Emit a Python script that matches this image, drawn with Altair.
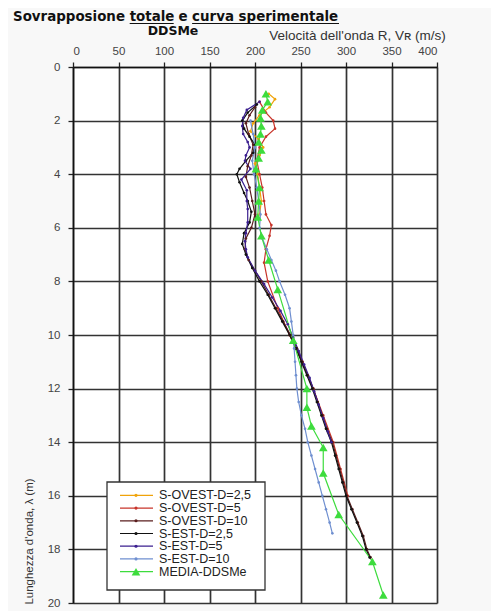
import altair as alt
import pandas as pd

series_names = ["S-OVEST-D=2,5", "S-OVEST-D=5", "S-OVEST-D=10",
                "S-EST-D=2,5", "S-EST-D=5", "S-EST-D=10", "MEDIA-DDSMe"]
series_colors = ["#f0a30a", "#c8342a", "#5a1e1e", "#111111", "#3b1f8f", "#6f8fd0", "#3ddc3d"]

x_ticks = [0, 50, 100, 150, 200, 250, 300, 350, 400]
y_ticks = list(range(0, 21))

title_parts = ["Sovrapposione", "totale", "e", "curva sperimentale"]
subtitle = "DDSMe"

# depth (m) / velocity (m/s)
ovest25_d = [1.0, 1.2, 1.5, 1.8, 2.1, 2.4, 2.7, 3.0, 3.3, 3.6, 4.0, 4.5, 5.0, 5.5]
ovest25_v = [215, 222, 216, 205, 198, 195, 204, 209, 205, 200, 203, 205, 207, 205]

ovest5_d = [1.3, 1.7, 2.0, 2.3, 2.6, 3.0, 3.5, 4.0, 4.5, 5.0, 5.5, 5.9, 6.3, 6.8, 7.3, 8.0, 9.0, 10.0,
            11.0, 12.0, 13.0, 14.0, 15.0, 16.0]
ovest5_v = [205, 212, 220, 222, 212, 205, 202, 205, 208, 210, 212, 218, 216, 212, 210, 214, 225, 238,
            252, 264, 275, 286, 294, 302]

ovest10_d = [1.5, 1.8, 2.1, 2.5, 2.9, 3.3, 3.7, 4.1, 4.5, 5.0, 5.5, 6.0, 6.4, 6.8, 7.2, 7.6, 8.0, 8.5,
             9.0, 9.5, 10.0, 10.5, 11.0, 11.5, 12.0, 12.5, 13.0, 13.5, 14.0, 14.5, 15.0, 15.5, 16.0,
             16.5, 17.0, 17.5, 18.0, 18.3]
ovest10_v = [200, 194, 190, 193, 198, 196, 192, 190, 194, 197, 200, 196, 190, 189, 193, 200, 207, 215,
             223, 231, 239, 246, 252, 258, 264, 269, 274, 279, 285, 289, 293, 297, 301,
             307, 313, 319, 323, 327]

est25_d = [1.4, 1.7, 2.0, 2.3, 2.6, 2.9, 3.2, 3.5, 3.8, 4.0, 4.3, 4.7, 5.0, 5.4, 5.8, 6.2, 6.6, 7.0,
           7.5, 8.0, 8.5, 9.0, 9.5, 10.0, 10.5, 11.0, 11.5, 12.0, 12.5, 13.0, 13.5, 14.0, 14.5, 15.0,
           15.5, 16.0, 16.5, 17.0, 17.5, 18.0, 18.3]
est25_v = [202, 192, 186, 188, 194, 200, 198, 190, 183, 180, 183, 188, 192, 196, 194, 188, 186, 190,
           197, 205, 214, 222, 230, 238, 245, 251, 257, 263, 268, 273, 278, 284, 288, 292,
           296, 300, 306, 312, 318, 322, 326]

est5_d = [1.3, 1.6, 1.9, 2.2, 2.5, 2.8, 3.0, 3.3, 3.5, 3.8, 4.2, 4.6, 5.0, 5.3, 5.8, 6.2, 6.5, 6.8,
          7.1, 7.6, 8.1, 8.6, 9.1, 9.6, 10.1, 10.6, 11.1, 11.6, 12.1, 12.6, 13.1, 13.6, 14.0]
est5_v = [205, 191, 187, 186, 187, 192, 194, 190, 189, 195, 185, 191, 191, 192, 192, 190, 189, 190,
          192, 200, 210, 219, 228, 236, 242, 248, 254, 260, 265, 270, 275, 280, 284]

est10_d = [2.0, 2.5, 3.0, 3.5, 4.0, 4.5, 5.0, 5.5, 6.0, 6.4, 6.8, 7.2, 7.6, 8.0, 8.5, 9.0, 9.5, 10.0,
           10.5, 11.0, 11.5, 12.0, 12.5, 13.0, 13.5, 14.0, 14.5, 15.0, 15.5, 16.0, 16.5, 17.0, 17.4]
est10_v = [195, 198, 200, 197, 199, 202, 204, 206, 205, 208, 213, 218, 223, 227, 233, 238, 240, 242,
           243, 244, 245, 246, 248, 251, 255, 258, 262, 266, 270, 274, 278, 282, 285]

media_d = [1.0, 1.3, 1.6, 1.9, 2.2, 2.5, 2.8, 3.1, 3.4, 3.8, 4.5, 5.0, 5.6, 6.3, 7.2, 8.3, 10.2,
           12.0, 12.7, 13.4, 14.2, 15.15, 16.7, 18.45, 19.7]
media_v = [212, 214, 208, 206, 207, 206, 204, 207, 204, 201, 205, 204, 203, 207, 215, 225, 242,
           257, 257, 262, 275, 275, 292, 329, 341]

all_d = [ovest25_d, ovest5_d, ovest10_d, est25_d, est5_d, est10_d, media_d]
all_v = [ovest25_v, ovest5_v, ovest10_v, est25_v, est5_v, est10_v, media_v]

rows = []
for name, ds, vs in zip(series_names, all_d, all_v):
    for i, (d, v) in enumerate(zip(ds, vs)):
        rows.append({"series": name, "depth": d, "vel": v, "idx": i})
df = pd.DataFrame(rows)

color = alt.Color("series:N", scale=alt.Scale(domain=series_names, range=series_colors), legend=None)

x_enc = alt.X("vel:Q", scale=alt.Scale(domain=[0, 400], nice=False, zero=False),
              axis=alt.Axis(orient="top", values=x_ticks, title="Velocità dell'onda R, Vʀ (m/s)",
                            titleX=284, titleY=-28, titleAlign="center", titleBaseline="alphabetic",
                            titleFont="Liberation Sans", titleFontSize=13.5, titleFontWeight="normal",
                            titleColor="#333333",
                            labelFont="Liberation Sans", labelFontSize=11.5, labelColor="#444444",
                            labelPadding=6, tickSize=5, tickColor="#222222", tickWidth=1.3,
                            grid=True, gridColor="#333333", gridWidth=1.7,
                            domainColor="#111111", domainWidth=1.5))
y_enc = alt.Y("depth:Q", scale=alt.Scale(domain=[0, 20], reverse=True, nice=False, zero=False),
              axis=alt.Axis(values=y_ticks, title="Lunghezza d'onda, λ (m)",
                            labelExpr="datum.value % 2 == 0 ? datum.label : ''",
                            titleX=-44, titleY=474, titleAngle=-90, titleAlign="center",
                            titleBaseline="middle",
                            titleFont="Liberation Sans", titleFontSize=11.5, titleFontWeight="normal",
                            titleColor="#333333",
                            labelFont="Liberation Sans", labelFontSize=11.5, labelColor="#444444",
                            labelPadding=8, tickSize=5, tickColor="#222222", tickWidth=1.3,
                            grid=True, gridColor="#333333", gridWidth=1.7,
                            gridOpacity={"condition": {"test": "datum.value % 2 === 0", "value": 1}, "value": 0},
                            domainColor="#111111", domainWidth=1.5))

base = alt.Chart(df)
lines = base.mark_line(strokeWidth=1.2).encode(
    x=x_enc, y=y_enc, color=color, detail="series:N", order="idx:Q")
dots = base.transform_filter(alt.datum.series != "MEDIA-DDSMe").mark_point(
    filled=True, size=7, opacity=1, shape="circle").encode(
    x="vel:Q", y="depth:Q", color=color)
tris = base.transform_filter(alt.datum.series == "MEDIA-DDSMe").mark_point(
    filled=True, size=75, opacity=1, shape="triangle-up").encode(
    x="vel:Q", y="depth:Q", color=color)

main = alt.layer(lines, dots, tris)

# legend built from the series list
leg_df = pd.DataFrame({"series": series_names})
leg_y = alt.Y("series:N", scale=alt.Scale(domain=series_names, range=[422, 511], padding=0), axis=None)
one = pd.DataFrame({"a": [0]})
leg_box = alt.Chart(one).mark_rect(fill="white", stroke="#333333", strokeWidth=1.3).encode(
    x=alt.value(34), x2=alt.value(192), y=alt.value(415), y2=alt.value(523))
leg_lines = alt.Chart(leg_df).mark_rule(strokeWidth=1.2).encode(
    x=alt.value(47), x2=alt.value(80), y=leg_y, color=color)
leg_dots = alt.Chart(leg_df).transform_filter(alt.datum.series != "MEDIA-DDSMe").mark_point(
    filled=True, size=10, opacity=1).encode(x=alt.value(63), y=leg_y, color=color)
leg_tri = alt.Chart(leg_df).transform_filter(alt.datum.series == "MEDIA-DDSMe").mark_point(
    filled=True, size=75, opacity=1, shape="triangle-up").encode(x=alt.value(63), y=leg_y, color=color)
leg_text = alt.Chart(leg_df).mark_text(align="left", baseline="middle", font="Liberation Sans",
                                       fontSize=12.5, color="#222222").encode(
    x=alt.value(86), y=leg_y, text="series:N")
legend = alt.layer(leg_box, leg_lines, leg_dots, leg_tri, leg_text)

# title pieces, set one after another
title_x = [-60, 56.7, 105.4, 119.1]


def title_piece(txt, xpos):
    return alt.Chart(one).mark_text(align="left", baseline="alphabetic", font="DejaVu Sans",
                                    fontWeight="bold", fontSize=13.4, color="#111111").encode(
        x=alt.value(xpos), y=alt.value(-46), text=alt.value(txt))


pieces = [title_piece(t, xp) for t, xp in zip(title_parts, title_x)]
t_sub = alt.Chart(one).mark_text(align="center", baseline="alphabetic", font="DejaVu Sans",
                                 fontWeight="bold", fontSize=12.5, color="#111111").encode(
    x=alt.value(100), y=alt.value(-32), text=alt.value(subtitle))
u1 = alt.Chart(one).mark_rule(color="#111111", strokeWidth=1).encode(
    x=alt.value(56.7), x2=alt.value(100.7), y=alt.value(-43.5))
u2 = alt.Chart(one).mark_rule(color="#111111", strokeWidth=1).encode(
    x=alt.value(119.1), x2=alt.value(266), y=alt.value(-43.5))
titles = alt.layer(*pieces, t_sub, u1, u2)

chart = alt.layer(main, legend, titles).resolve_scale(y="independent").properties(
    width=364, height=536,
    autosize=alt.AutoSizeParams(type="none"),
    padding={"left": 65, "top": 59, "right": 54, "bottom": 8},
    background="#f8f8f8",
).configure_view(fill="white", stroke=None)

chart.save("out.html", embed_options={"renderer": "svg", "actions": False})
